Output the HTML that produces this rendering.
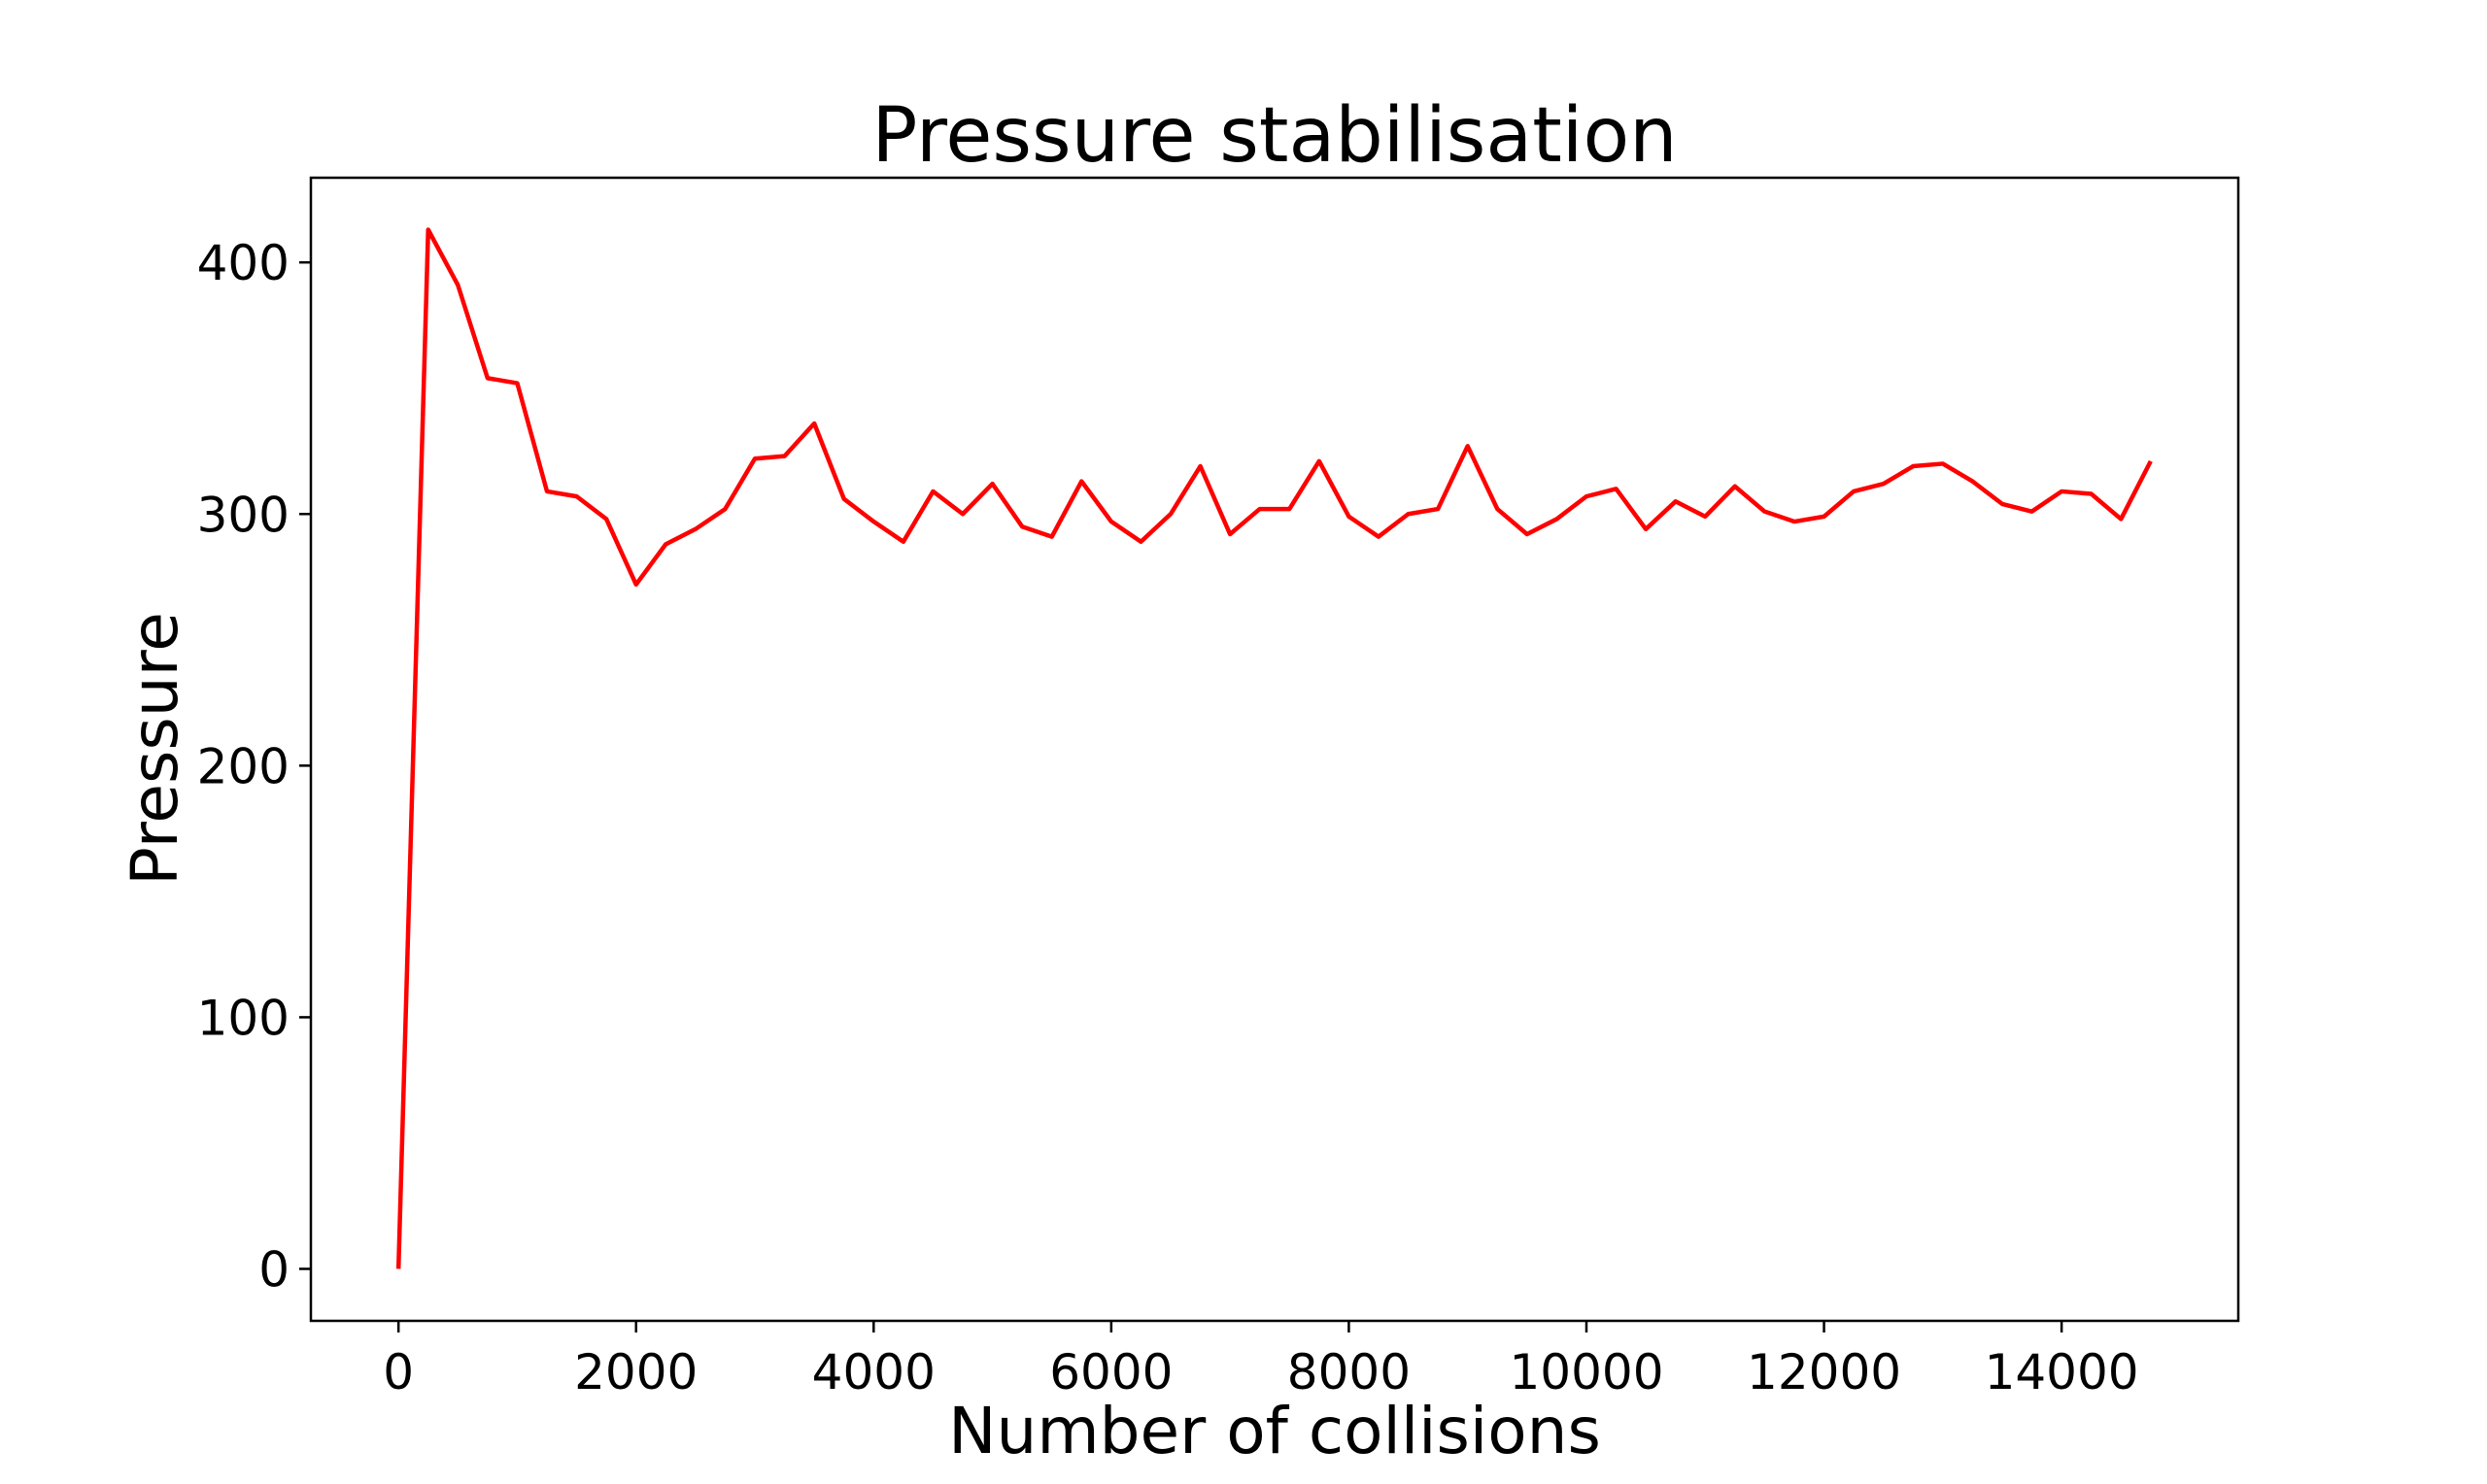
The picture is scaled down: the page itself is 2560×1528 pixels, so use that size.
<!DOCTYPE html>
<html><head><meta charset="utf-8"><style>
body{margin:0;background:#fff}
svg{display:block;font-family:"DejaVu Sans","Liberation Sans",sans-serif}
</style></head><body>
<svg id="chart" width="2560" height="1528" viewBox="0 0 2560 1528">
<rect width="2560" height="1528" fill="#fff"/>
<text x="1312" y="166" font-size="78" text-anchor="middle">Pressure stabilisation</text>
<g id="plot"></g>
<text x="1312" y="1496" font-size="66" text-anchor="middle">Number of collisions</text>
<text transform="translate(182,771) rotate(-90)" font-size="66" text-anchor="middle">Pressure</text>
</svg>
<script>
const xValues=[0,250,500,750,1000,1250,1500,1750,2000,2250,2500,2750,3000,3250,3500,3750,4000,4250,4500,4750,5000,5250,5500,5750,6000,6250,6500,6750,7000,7250,7500,7750,8000,8250,8500,8750,9000,9250,9500,9750,10000,10250,10500,10750,11000,11250,11500,11750,12000,12250,12500,12750,13000,13250,13500,13750,14000,14250,14500,14750];
const pressure=[0,413,391,354,352,309,307,298,272,288,294,302,322,323,336,306,297,289,309,300,312,295,291,313,297,289,300,319,292,302,302,321,299,291,300,302,327,302,292,298,307,310,294,305,299,311,301,297,299,309,312,319,320,313,304,301,309,308,298,321];
const xTicks=[0,2000,4000,6000,8000,10000,12000,14000];
const yTicks=[0,100,200,300,400];

const L=320,R=2304,T=183,B=1360;
const xmin=Math.min(...xValues),xmax=Math.max(...xValues),xr=xmax-xmin;
const ymin=Math.min(...pressure),ymax=Math.max(...pressure),yr=ymax-ymin;
const x0=xmin-0.05*xr,x1=xmax+0.05*xr,y0=ymin-0.05*yr,y1=ymax+0.05*yr;
const sx=v=>L+(v-x0)/(x1-x0)*(R-L);
const sy=v=>B-(v-y0)/(y1-y0)*(B-T);
const NS="http://www.w3.org/2000/svg";
const g=document.getElementById('plot');
function mk(t,a){const e=document.createElementNS(NS,t);for(const k in a)e.setAttribute(k,a[k]);g.appendChild(e);return e;}

const line=mk('polyline',{points:xValues.map((x,i)=>sx(x)+','+sy(pressure[i])).join(' '),fill:'none',stroke:'#ff0000','stroke-width':4.5,'stroke-linejoin':'round'});



const frame=mk('rect',{x:L,y:T,width:R-L,height:B-T,fill:'none',stroke:'#000','stroke-width':2.5});



xTicks.forEach(v=>{
  const X=sx(v);
  const t=mk('line',{x1:X,x2:X,y1:B,y2:B+12,stroke:'#000','stroke-width':2.5});
  
  
  const l=mk('text',{x:X,y:1430,'font-size':50,'text-anchor':'middle'});
  l.textContent=v;
  
  
});
yTicks.forEach(v=>{
  const Y=sy(v);
  const t=mk('line',{x1:L-12,x2:L,y1:Y,y2:Y,stroke:'#000','stroke-width':2.5});
  
  
  const l=mk('text',{x:L-22,y:Y+18,'font-size':50,'text-anchor':'end'});
  l.textContent=v;
  
  
});
</script>
</body></html>
